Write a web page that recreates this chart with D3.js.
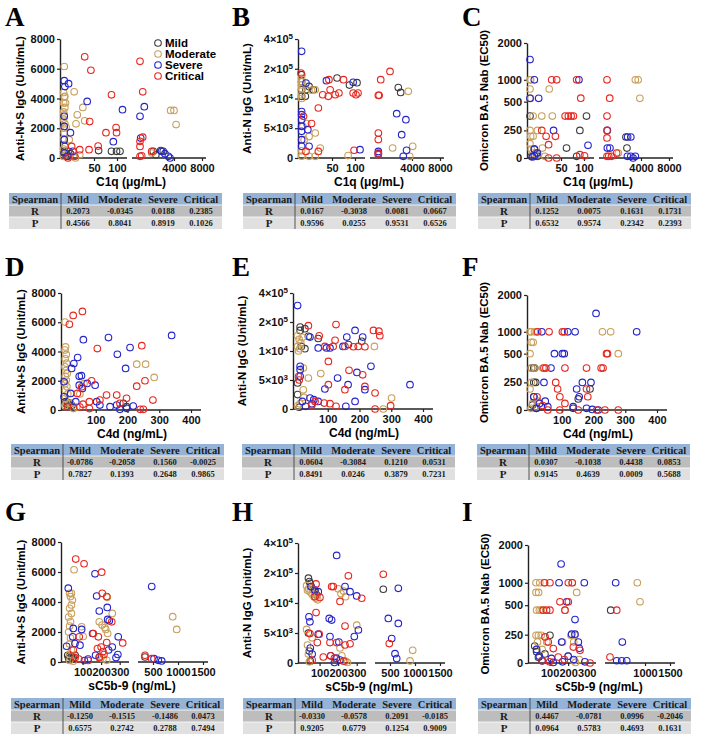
<!DOCTYPE html>
<html><head><meta charset="utf-8">
<script src="https://cdn.jsdelivr.net/npm/d3@7"></script>
<style>body{margin:0;background:#fff} svg{display:block}</style>
</head><body><div id="chart"></div>
<script>
// groups
const groups = ["Mild", "Moderate", "Severe", "Critical"];
const colors = ["#3c3c3c", "#c9a05c", "#2424cc", "#e8261f"];

// A: C1q vs Anti-N+S IgG
const aMild = [[2,450],[4,330],[9,450],[12,290],[3,780],[9,110],[60,500],[88,450],[99,450],[106,450],[2170,450],[2820,500],[3050,450],[2400,220]];
const aMod = [[2,6150],[1,4400],[2,4100],[1,3700],[3,3400],[1,3100],[2,2900],[1,2600],[3,2300],[1,2000],[2,1700],[1,1300],[3,900],[1,600],[2,300],[1,100],[3,4150],[4,3700],[18,4450],[32,3400],[23,2900],[35,2500],[21,2300],[5,2080],[10,1230],[27,220],[20,0],[10,100],[2030,335],[3700,3200],[4000,3200],[4300,2250]];
const aSev = [[2,5200],[3,4800],[9,5000],[39,3800],[111,3250],[92,1100],[12,1700],[2,2800],[2,2120],[2,1230],[2,335],[16,450],[1000,2800],[1380,3450],[1060,1340],[3500,110],[3200,290],[2900,450],[3650,0],[7,110]];
const aCrit = [[35,6800],[45,5900],[88,4250],[98,2050],[99,1700],[76,1700],[59,800],[43,2450],[27,560],[14,780],[19,110],[8,0],[42,560],[1000,6500],[1240,4450],[1240,1400],[1000,1120],[1000,780],[1000,110],[1150,150],[2030,450]];

// B: C1q vs Anti-N IgG
const bMild = [[1,162000],[1,117000],[1,66000],[1,24000],[8,66000],[13,87000],[20,66000],[7,24000],[61,141000],[88,96000],[104,111000],[2790,80000],[3000,49000]];
const bMod = [[1,138000],[1,117000],[1,97000],[1,73000],[1,33000],[1,10000],[17,63000],[23,66000],[3,5300],[5,3080],[9,5800],[13,3600],[23,4200],[31,1680],[23,280],[13,280],[1,1200],[1,300],[85,400],[2290,1680],[3670,56000],[4100,1960],[3800,280]];
const bSev = [[1,317000],[1,7800],[1,7280],[1,6440],[1,5320],[1,4480],[1,3080],[1,1960],[8,109000],[41,124000],[96,113000],[11,4760],[13,1960],[110,1400],[1030,1100],[2650,7450],[3460,6440],[3090,3920],[3230,280],[3520,1300],[1030,730]];
const bCrit = [[0,173000],[45,130000],[35,34000],[44,24000],[47,66000],[57,34000],[65,45000],[75,130000],[96,45000],[102,34000],[106,45000],[28,8400],[17,5800],[4,7000],[1030,4200],[1030,3100],[1030,840],[1030,560],[1240,130000],[1030,30000],[1100,30000],[2060,183000],[98,1300],[8,1100],[28,1100]];

// C: C1q vs Omicron BA.5 Nab
const cMild = [[0,375],[91,250],[105,375],[62,90],[84,15],[2670,190],[2760,90],[7,80],[10,45],[2,15],[12,15]];
const cMod = [[0,1000],[1,1000],[0,790],[31,790],[0,575],[1,575],[5,375],[19,375],[36,375],[0,250],[12,250],[1,196],[5,196],[0,130],[20,90],[24,15],[3500,1000],[3750,1000],[3900,575],[2000,45],[2,80],[4,45],[12,30]];
const cSev = [[0,1550],[7,1000],[0,575],[14,575],[89,1000],[38,250],[108,115],[1030,250],[1030,90],[1260,90],[2820,190],[3100,190],[2800,15],[3100,15],[3500,15],[3300,0],[12,45],[7,20],[4,10],[7,80]];
const cCrit = [[35,1000],[43,1000],[84,1000],[1000,1000],[93,580],[1240,580],[59,375],[66,375],[72,375],[77,375],[1000,375],[19,250],[26,196],[41,196],[30,121],[1000,250],[1000,182],[1000,15],[1150,15],[1400,15],[30,0],[43,0],[1850,45],[91,30],[101,20]];

// D: C4d vs Anti-N+S IgG
const dMild = [[5,570],[8,410],[12,500],[16,340],[20,450],[25,300],[187,454],[197,227],[30,150]];
const dMod = [[3,6015],[5,4310],[3,4100],[7,3800],[4,3500],[8,3200],[3,2950],[6,2700],[10,2500],[4,2300],[7,2050],[3,1800],[9,1600],[5,1350],[12,1100],[4,800],[8,500],[3,300],[229,3130],[257,3130],[284,2225],[20,450],[30,100],[40,200],[63,1800],[50,1100]];
const dSev = [[61,4810],[140,4950],[168,3810],[208,4270],[194,2840],[339,5100],[43,3590],[31,3180],[24,2840],[48,2300],[55,2350],[73,1815],[98,1700],[48,1700],[58,1475],[21,1135],[0,1930],[0,900],[37,567],[103,567],[113,340],[145,227],[176,45],[197,113],[218,272],[166,340]];
const dCrit = [[29,6470],[58,6740],[17,5860],[105,4200],[245,4400],[87,2000],[255,2000],[229,1630],[280,680],[134,1020],[166,1020],[197,800],[56,1590],[42,1135],[80,567],[113,680],[176,454],[11,227],[240,45],[250,45],[50,200],[60,400],[80,100]];

// E: C4d vs Anti-N IgG
const eMild = [[13,167000],[13,145000],[28,156000],[39,106000],[70,92000],[17,40000],[28,25000],[165,52000],[207,74000],[5,4500],[5,2480],[10,300]];
const eMod = [[5,110000],[10,86000],[15,63000],[5,40000],[12,25000],[8,10000],[20,100000],[23,7060],[39,5340],[78,6100],[23,3300],[25,2000],[247,40000],[301,1900],[275,0],[5,500],[12,900]];
const eSev = [[5,313000],[44,101000],[70,30000],[96,30000],[107,30000],[160,101000],[186,145000],[210,101000],[148,40000],[13,7360],[13,6780],[13,5630],[236,7360],[131,5340],[164,4200],[192,6300],[217,3330],[359,4200],[91,3450],[44,1900],[56,1600],[70,1300],[157,460],[186,1300],[20,1300],[30,460],[50,900]];
const eCrit = [[39,176000],[126,183000],[73,110000],[91,40000],[117,40000],[123,80000],[154,40000],[181,38000],[196,40000],[217,38000],[244,145000],[261,140000],[264,110000],[102,8200],[167,6670],[210,5900],[217,3900],[249,2760],[102,4200],[154,3340],[89,1030],[107,920],[126,460],[249,0],[298,575],[8,5600],[10,5000],[50,700],[60,1300]];

// F: C4d vs Omicron BA.5 Nab
const fMild = [[5,375],[12,375],[15,375],[12,250],[18,250],[189,190],[152,100],[12,120],[8,45],[20,15],[35,30],[136,15]];
const fMod = [[0,1000],[4,1000],[14,1000],[20,1000],[228,1000],[254,1000],[4,760],[10,760],[0,500],[278,500],[4,375],[15,375],[40,375],[4,250],[0,190],[12,120],[8,60],[20,30],[3,15],[25,80]];
const fSev = [[208,1500],[37,1000],[119,1000],[142,1000],[336,1000],[77,500],[102,500],[108,500],[66,375],[44,250],[165,250],[192,250],[147,190],[155,120],[136,30],[178,15],[196,5],[215,0],[12,120],[20,15],[30,60],[48,80],[56,30]];
const fCrit = [[24,1000],[60,1000],[102,1000],[108,1000],[241,500],[244,500],[44,375],[50,375],[110,375],[178,375],[224,375],[230,375],[81,250],[87,190],[178,190],[94,120],[110,60],[182,120],[56,0],[94,0],[152,0],[210,0],[236,0],[278,0],[22,120],[40,40]];

// G: sC5b-9 vs Anti-N+S IgG
const gMild = [[20,450],[30,400],[40,350],[50,300],[60,450],[25,250],[45,200],[400,335],[190,335]];
const gMod = [[54,6150],[30,4580],[40,4580],[35,4360],[45,4130],[40,3800],[30,3580],[40,3240],[25,3000],[35,2700],[30,2400],[25,2000],[35,1600],[30,1200],[40,800],[30,500],[95,2350],[103,1700],[190,2680],[205,2460],[220,2300],[233,4310],[260,3240],[225,2170],[235,1900],[200,330],[210,220],[230,110],[894,3020],[974,2170],[30,100],[50,50]];
const gSev = [[23,4920],[167,5880],[176,4400],[190,3400],[233,3640],[235,2840],[244,2750],[292,1680],[86,1120],[95,2170],[50,2240],[47,1680],[59,1230],[14,1050],[154,1900],[110,100],[130,200],[170,450],[280,300],[290,500],[240,800],[260,1000],[484,5030],[520,220],[606,110],[674,70]];
const gCrit = [[63,6860],[108,6550],[203,5990],[206,4580],[230,4360],[257,2680],[316,1270],[82,1680],[158,1900],[185,1680],[200,1000],[210,700],[190,300],[215,500],[230,1300],[180,900],[50,800],[60,300],[80,200],[400,450],[484,220],[130,100]];

// H: sC5b-9 vs Anti-N IgG
const hMild = [[40,167000],[45,146000],[50,135000],[55,114000],[66,92000],[75,80000],[85,60000],[416,97000],[40,5000],[45,2000],[50,300]];
const hMod = [[30,120000],[40,100000],[50,80000],[60,65000],[70,50000],[80,40000],[90,30000],[35,90000],[55,110000],[75,70000],[200,100000],[215,70000],[240,50000],[230,85000],[30,5600],[35,3000],[40,1500],[45,200],[300,6300],[210,2500],[220,1200],[240,300],[250,100],[954,2120],[900,340],[60,4200]];
const hSev = [[192,317000],[54,114000],[75,92000],[93,82000],[237,114000],[264,82000],[300,55000],[666,103000],[43,7700],[48,6870],[152,7430],[165,7150],[479,7430],[666,6590],[93,4800],[156,4400],[204,3500],[287,4400],[309,5500],[60,1500],[50,2500],[534,4080],[600,1560],[634,730],[160,1200],[190,800],[210,500],[180,100]];
const hCrit = [[81,131000],[165,114000],[174,114000],[255,182000],[327,40000],[416,192000],[81,8400],[237,6150],[48,4900],[98,4800],[88,3400],[156,3400],[192,3400],[237,3000],[264,3200],[160,1200],[180,800],[230,300],[491,3240],[75,50000],[102,45000],[60,500],[120,1000],[210,20000]];

// I: sC5b-9 vs Omicron BA.5 Nab
const iMild = [[102,245],[384,458],[30,100],[40,50],[60,20],[75,80],[20,150]];
const iMod = [[27,1000],[47,1000],[74,1000],[222,1000],[27,784],[41,784],[246,784],[846,1000],[900,574],[30,458],[45,458],[55,458],[183,458],[27,245],[40,245],[55,245],[215,245],[235,245],[35,185],[85,185],[170,185],[230,185],[60,120],[200,60],[230,20],[240,5],[260,30]];
const iSev = [[162,1497],[151,1000],[287,1000],[446,1000],[192,574],[237,378],[219,254],[237,254],[165,185],[255,185],[260,130],[200,60],[30,120],[45,60],[60,20],[110,40],[546,185],[459,20],[534,20],[634,20],[120,5],[170,10],[230,30],[290,10]];
const iCrit = [[72,1000],[102,1000],[201,1000],[222,1000],[156,574],[201,574],[66,458],[84,458],[102,458],[183,458],[459,458],[76,230],[93,185],[120,127],[147,53],[228,141],[264,112],[318,0],[375,53],[60,20],[180,30],[100,10]];

// Spearman tables
const aR = ["0.2073","-0.0345","0.0188","0.2385"], aP = ["0.4566","0.8041","0.8919","0.1026"];
const bR = ["0.0167","-0.3038","0.0081","0.0667"], bP = ["0.9596","0.0255","0.9531","0.6526"];
const cR = ["0.1252","0.0075","0.1631","0.1731"], cP = ["0.6532","0.9574","0.2342","0.2393"];
const dR = ["-0.0786","-0.2058","0.1560","-0.0025"], dP = ["0.7827","0.1393","0.2648","0.9865"];
const eR = ["0.0604","-0.3084","0.1210","0.0531"], eP = ["0.8491","0.0246","0.3879","0.7231"];
const fR = ["0.0307","-0.1038","0.4438","0.0853"], fP = ["0.9145","0.4639","0.0009","0.5688"];
const gR = ["-0.1250","-0.1515","-0.1486","0.0473"], gP = ["0.6575","0.2742","0.2788","0.7494"];
const hR = ["-0.0330","-0.0578","0.2091","-0.0185"], hP = ["0.9205","0.6779","0.1254","0.9009"];
const iR = ["0.4467","-0.0781","0.0996","-0.2046"], iP = ["0.0964","0.5783","0.4693","0.1631"];

// tick labels
const nsTicks = [0, 2000, 4000, 6000, 8000];
const nTicks = [0, 5000, 10000, 200000, 400000];
const nTickLabels = [["0",""], ["5×10","3"], ["1×10","4"], ["2×10","5"], ["4×10","5"]];
const nabTicks = [0, 250, 500, 1000, 2000];

const sans = "'Liberation Sans', Arial, sans-serif";
const serif = "'Liberation Serif', 'Times New Roman', serif";

// y axis kinds: domain + fraction of height
const yKinds = {
  ns: {dom: [0, 8000], frac: [0, 1], ticks: nsTicks, title: "Anti-N+S IgG (Unit/mL)", off: 36},
  n: {dom: nTicks, frac: [0, .25, .5, .75, 1], ticks: nTicks, title: "Anti-N IgG (Unit/mL)", off: 47},
  nab: {dom: nabTicks, frac: [0, .24, .49, .68, 1], ticks: nabTicks, title: "Omicron BA.5 Nab (EC50)", off: 39}
};
// x axis kinds: segments relative to y-axis position
const xKinds = {
  c1q: {title: "C1q (μg/mL)", segs: [
    {dom: [0, 50, 100, 120], rng: [3, 34, 57, 67], line: [0, 67], ticks: [50, 100]},
    {dom: [200, 1000, 4000, 8000, 8400], rng: [72, 80, 114, 142, 146], line: [72, 146], ticks: [4000, 8000]}]},
  c4d: {title: "C4d (ng/mL)", segs: [
    {dom: [0, 400], rng: [3, 130], line: [0, 140], ticks: [100, 200, 300, 400]}]},
  c5b9: {title: "sC5b-9 (ng/mL)", segs: [
    {dom: [0, 350], rng: [3, 68], line: [0, 68], ticks: [100, 200, 300]},
    {dom: [350, 500, 1000, 1500, 1600], rng: [80, 92, 117, 142, 147], line: [77, 147], ticks: [500, 1000, 1500]}]}
};

const panels = [
  {id: "A", x0: 60, top: 39, bot: 158, tl: 9, ty: 193, lx: 5, ly: 26, xk: "c1q", yk: "ns", data: [aMild, aMod, aSev, aCrit], R: aR, P: aP, legend: true},
  {id: "B", x0: 298, top: 39, bot: 158, tl: 243, ty: 193, lx: 232, ly: 26, xk: "c1q", yk: "n", data: [bMild, bMod, bSev, bCrit], R: bR, P: bP},
  {id: "C", x0: 527, top: 43, bot: 158, tl: 478, ty: 193, lx: 462, ly: 26, xk: "c1q", yk: "nab", data: [cMild, cMod, cSev, cCrit], R: cR, P: cP},
  {id: "D", x0: 61, top: 293, bot: 410, tl: 11, ty: 444, lx: 5, ly: 276, xk: "c4d", yk: "ns", data: [dMild, dMod, dSev, dCrit], R: dR, P: dP},
  {id: "E", x0: 293, top: 293, bot: 409, tl: 242, ty: 444, lx: 232, ly: 276, xk: "c4d", yk: "n", data: [eMild, eMod, eSev, eCrit], R: eR, P: eP},
  {id: "F", x0: 527, top: 295, bot: 410, tl: 477, ty: 444, lx: 462, ly: 276, xk: "c4d", yk: "nab", data: [fMild, fMod, fSev, fCrit], R: fR, P: fP},
  {id: "G", x0: 61, top: 542, bot: 662, tl: 11, ty: 698, lx: 5, ly: 521, xk: "c5b9", yk: "ns", data: [gMild, gMod, gSev, gCrit], R: gR, P: gP},
  {id: "H", x0: 298, top: 543, bot: 663, tl: 243, ty: 698, lx: 232, ly: 521, xk: "c5b9", yk: "n", data: [hMild, hMod, hSev, hCrit], R: hR, P: hP},
  {id: "I", x0: 528, top: 545, bot: 663, tl: 478, ty: 698, lx: 462, ly: 521, xk: "c5b9", yk: "nab", data: [iMild, iMod, iSev, iCrit], R: iR, P: iP, seg2Ticks: [1000, 1500]}
];

const svg = d3.select("#chart").append("svg")
  .attr("width", 702).attr("height", 737)
  .style("background", "#fff");

panels.forEach(drawPanel);

function drawPanel(p) {
  const g = svg.append("g");
  const yk = yKinds[p.yk], xk = xKinds[p.xk];

  // panel letter
  g.append("text").attr("x", p.lx).attr("y", p.ly)
    .style("font", "bold 27px " + serif).text(p.id);

  // y scale + axis
  const y = d3.scaleLinear().domain(yk.dom)
    .range(yk.frac.map(f => p.bot - f * (p.bot - p.top)));
  const yAxis = g.append("g").attr("transform", `translate(${p.x0},0)`)
    .call(d3.axisLeft(y).tickValues(yk.ticks).tickFormat(d => String(d))
      .tickSize(3).tickSizeOuter(0).tickPadding(2));
  yAxis.select(".domain").attr("stroke", "#222").attr("stroke-width", 1.4);
  yAxis.selectAll(".tick line").attr("stroke", "#222").attr("stroke-width", 1.2);
  yAxis.selectAll("text").style("font", "bold 11px " + sans).attr("fill", "#111");
  if (p.yk === "n") {
    yAxis.selectAll(".tick text").each(function(d) {
      const lab = nTickLabels[nTicks.indexOf(d)];
      const t = d3.select(this).text(null);
      t.append("tspan").text(lab[0]);
      if (lab[1]) t.append("tspan").attr("dy", "-0.45em").style("font-size", "8px").text(lab[1]);
    });
  }
  g.append("text")
    .attr("transform", `translate(${p.x0 - yk.off},${(p.top + p.bot) / 2}) rotate(-90)`)
    .attr("text-anchor", "middle")
    .style("font", "bold 11.5px " + sans).text(yk.title);

  // x segments
  const scales = xk.segs.map((s, i) => {
    const sc = d3.scaleLinear().domain(s.dom).range(s.rng.map(r => p.x0 + r));
    const ticks = (i === 1 && p.seg2Ticks) ? p.seg2Ticks : s.ticks;
    const ax = g.append("g").attr("transform", `translate(0,${p.bot})`)
      .call(d3.axisBottom(sc).tickValues(ticks).tickFormat(d => String(d))
        .tickSize(3).tickSizeOuter(0).tickPadding(3));
    ax.select(".domain").remove();
    ax.selectAll(".tick line").attr("stroke", "#222").attr("stroke-width", 1.2);
    ax.selectAll("text").style("font", "bold 11px " + sans).attr("fill", "#111");
    g.append("line")
      .attr("x1", p.x0 + s.line[0]).attr("x2", p.x0 + s.line[1])
      .attr("y1", p.bot).attr("y2", p.bot)
      .attr("stroke", "#222").attr("stroke-width", 1.4);
    return {sc, max: s.dom[s.dom.length - 1]};
  });
  const xPos = v => (scales.find(s => v <= s.max) || scales[scales.length - 1]).sc(v);

  g.append("text").attr("x", p.x0 + 71).attr("y", p.bot + 28)
    .attr("text-anchor", "middle")
    .style("font", "bold 12px " + sans).text(xk.title);

  // points
  p.data.forEach((arr, gi) => {
    g.append("g").selectAll("circle").data(arr).enter().append("circle")
      .attr("cx", d => xPos(d[0]))
      .attr("cy", d => y(d[1]))
      .attr("r", 3.3)
      .attr("fill", "none")
      .attr("stroke", colors[gi])
      .attr("stroke-width", 1.1);
  });

  // legend
  if (p.legend) {
    const lg = g.append("g");
    groups.forEach((name, i) => {
      lg.append("circle").attr("cx", 158).attr("cy", 43 + i * 11).attr("r", 3.3)
        .attr("fill", "none").attr("stroke", colors[i]).attr("stroke-width", 1.1);
      lg.append("text").attr("x", 165).attr("y", 47 + i * 11)
        .style("font", "bold 11.5px " + sans).text(name);
    });
  }

  // Spearman table
  const tw = 213, rh = 12;
  const cols = [26, 69, 111, 154, 192];
  const rows = [
    {fill: "#95b3d7", cells: ["Spearman"].concat(groups), head: true},
    {fill: "#bdbdbd", cells: ["R"].concat(p.R)},
    {fill: "#e0e0e0", cells: ["P"].concat(p.P)}
  ];
  const tg = g.append("g").attr("transform", `translate(${p.tl},${p.ty})`);
  rows.forEach((r, ri) => {
    tg.append("rect").attr("x", 0).attr("y", ri * rh).attr("width", tw).attr("height", rh)
      .attr("fill", r.fill);
    r.cells.forEach((c, ci) => {
      const font = r.head ? "bold 10.5px " : (ci === 0 ? "bold 11px " : "bold 8.5px ");
      tg.append("text").attr("x", cols[ci]).attr("y", ri * rh + (r.head || ci === 0 ? 10 : 9))
        .attr("text-anchor", "middle")
        .style("font", font + serif)
        .attr("fill", "#1a1a1a").text(c);
    });
  });
  tg.append("line").attr("x1", 0).attr("x2", tw).attr("y1", rh).attr("y2", rh)
    .attr("stroke", "#fff").attr("stroke-width", 0.8);
  tg.append("line").attr("x1", 0).attr("x2", tw).attr("y1", 2 * rh).attr("y2", 2 * rh)
    .attr("stroke", "#fff").attr("stroke-width", 0.8);
  tg.append("line").attr("x1", 52).attr("x2", 52).attr("y1", 0).attr("y2", 3 * rh)
    .attr("stroke", "#444").attr("stroke-width", 0.9);
}
</script>
</body></html>
